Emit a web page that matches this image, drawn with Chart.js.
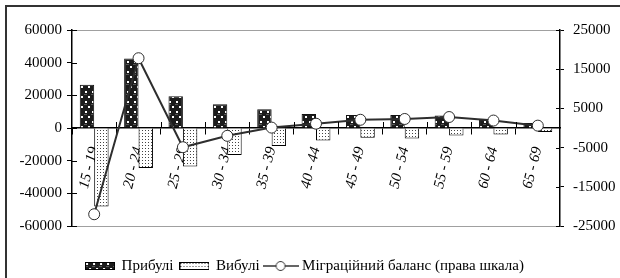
<!DOCTYPE html>
<html>
<head>
<meta charset="utf-8">
<script src="https://cdn.jsdelivr.net/npm/chart.js@4"></script>
<style>
html,body{margin:0;padding:0;background:#fff;overflow:hidden;}
#wrap{width:620px;height:278px;position:relative;}
</style>
</head>
<body>
<div id="wrap"><canvas id="c" width="620" height="278"></canvas></div>
<script>
// ---- data ----
const categories = ['15 - 19','20 - 24','25 - 29','30 - 34','35 - 39','40 - 44','45 - 49','50 - 54','55 - 59','60 - 64','65 - 69'];
const arrivals   = [26500, 42500, 19500, 14500, 11500, 8500, 8000, 8000, 7600, 5600, 3000];
const departures = [-48000, -24500, -23600, -16600, -11000, -7700, -6000, -6400, -4600, -4000, -2400];
const balance    = [-22000, 17800, -4900, -2000, 100, 1100, 2100, 2300, 2800, 1900, 600];
const leftTicks  = [-60000, -40000, -20000, 0, 20000, 40000, 60000];
const rightTicks = [-25000, -15000, -5000, 5000, 15000, 25000];
const seriesNames = ['Прибулі', 'Вибулі', 'Міграційний баланс (права шкала)'];

const FONT = "'Liberation Serif', 'Times New Roman', serif";
Chart.defaults.font.family = FONT;
Chart.defaults.color = '#000';

const ctx = document.getElementById('c').getContext('2d');

function makeTile(w, h, draw) {
  const c = document.createElement('canvas');
  c.width = w; c.height = h;
  draw(c.getContext('2d'));
  return c;
}
const darkTile = makeTile(7, 10, g => {
  g.fillStyle = '#1c1c1c'; g.fillRect(0, 0, 7, 10);
  g.fillStyle = '#555'; g.fillRect(0, 4, 3, 1);
  g.fillStyle = '#ffffff'; g.fillRect(1, 1, 2, 2); g.fillRect(4, 6, 2, 2);
});
const lightTile = makeTile(3, 3, g => {
  g.fillStyle = '#ffffff'; g.fillRect(0, 0, 3, 3);
  g.fillStyle = '#444444'; g.fillRect(1, 1, 1, 1);
});
const darkPat = ctx.createPattern(darkTile, 'repeat');
const lightPat = ctx.createPattern(lightTile, 'repeat');

function legendBox(pat) {
  return makeTile(30, 8, g => {
    g.fillStyle = g.createPattern(pat, 'repeat');
    g.fillRect(0, 0, 30, 8);
    g.strokeStyle = '#000'; g.lineWidth = 1;
    g.strokeRect(0.5, 0.5, 29, 7);
  });
}
const legendLine = makeTile(36, 12, g => {
  g.strokeStyle = '#333'; g.lineWidth = 1.5;
  g.beginPath(); g.moveTo(0, 6); g.lineTo(36, 6); g.stroke();
  g.fillStyle = '#fff'; g.strokeStyle = '#333'; g.lineWidth = 1;
  g.beginPath(); g.arc(18, 6, 4.5, 0, Math.PI * 2); g.fill(); g.stroke();
});
const legendImgs = [legendBox(darkTile), legendBox(lightTile), legendLine];

const decor = {
  id: 'decor',
  beforeDraw(chart) {
    const c = chart.ctx;
    c.save();
    c.fillStyle = '#fff'; c.fillRect(0, 0, chart.width, chart.height);
    c.strokeStyle = '#333'; c.lineWidth = 2;
    c.beginPath(); c.moveTo(6, chart.height); c.lineTo(6, 6); c.lineTo(chart.width, 6); c.stroke();
    c.restore();
  },
  afterDraw(chart) {
    const c = chart.ctx;
    const y = chart.scales.y, y2 = chart.scales.y2, x = chart.scales.x;
    c.save();
    c.strokeStyle = '#000'; c.lineWidth = 1;
    c.beginPath();
    y.ticks.forEach(t => { const p = Math.round(y.getPixelForValue(t.value)) + 0.5; c.moveTo(y.right, p); c.lineTo(y.right + 5, p); });
    y2.ticks.forEach(t => { const p = Math.round(y2.getPixelForValue(t.value)) + 0.5; c.moveTo(y2.left - 4, p); c.lineTo(y2.left, p); });
    const zy = y.getPixelForValue(0);
    for (let i = 1; i < categories.length; i++) {
      const px = Math.round((x.getPixelForValue(i) + x.getPixelForValue(i - 1)) / 2) + 0.5;
      c.moveTo(px, zy - 6); c.lineTo(px, zy);
    }
    c.stroke();
    c.restore();
  }
};

new Chart(ctx, {
  type: 'bar',
  data: {
    labels: categories,
    datasets: [
      { label: seriesNames[0], data: arrivals, backgroundColor: darkPat, borderColor: '#111', borderWidth: 1, yAxisID: 'y', order: 1, categoryPercentage: 0.65, barPercentage: 1.0 },
      { label: seriesNames[1], data: departures, backgroundColor: lightPat, borderColor: '#000', borderWidth: 1, yAxisID: 'y', order: 1, categoryPercentage: 0.65, barPercentage: 1.0 },
      { type: 'line', label: seriesNames[2], data: balance, yAxisID: 'y2', order: 0, borderColor: '#2e2e2e', borderWidth: 2, tension: 0,
        pointRadius: 5.5, pointBackgroundColor: '#fff', pointBorderColor: '#2e2e2e', pointBorderWidth: 1 }
    ]
  },
  options: {
    responsive: false,
    animation: false,
    layout: { padding: { top: 30, left: -10, right: 0, bottom: -5.5 } },
    plugins: {
      tooltip: { enabled: false },
      legend: {
        position: 'bottom',
        labels: {
          usePointStyle: true,
          pointStyleWidth: 28,
          padding: 7,
          font: { size: 15, family: FONT },
          color: '#000',
          generateLabels: chart => seriesNames.map((n, i) => ({
            text: n, pointStyle: legendImgs[i], datasetIndex: i, hidden: false,
            fillStyle: '#fff', strokeStyle: '#000', lineWidth: 0
          }))
        }
      }
    },
    scales: {
      x: {
        type: 'category',
        position: { y: 0 },
        offset: true,
        grid: { display: true, drawOnChartArea: false, offset: true, color: '#000', tickLength: 6, lineWidth: 1 },
        border: { display: true, color: '#000', width: 1.5 },
        ticks: { minRotation: 76, maxRotation: 76, autoSkip: false, padding: 11,
          font: { size: 15, style: 'italic', family: FONT }, color: '#000' }
      },
      spacer: {
        type: 'category',
        position: 'bottom',
        grid: { display: false }, border: { display: false },
        ticks: { display: false },
        afterFit: s => { s.height = 25.5; }
      },
      y: {
        position: 'left',
        min: -60000, max: 60000,
        afterBuildTicks: s => { s.ticks = leftTicks.map(v => ({ value: v })); },
        afterFit: s => { s.width = 82; },
        grid: {
          drawOnChartArea: true,
          color: c => (c.tick && (c.tick.value === 60000 || c.tick.value === -60000)) ? '#a0a0a0' : 'rgba(0,0,0,0)',
          tickColor: '#000', tickLength: 5, lineWidth: 1
        },
        border: { display: true, color: '#000', width: 1.5 },
        ticks: { padding: 5, font: { size: 15, family: FONT }, color: '#000', callback: v => String(v) }
      },
      y2: {
        position: 'right',
        min: -25000, max: 25000,
        afterBuildTicks: s => { s.ticks = rightTicks.map(v => ({ value: v })); },
        afterFit: s => { s.width = 60; },
        grid: { drawOnChartArea: false, tickColor: '#000', tickLength: 4, lineWidth: 1, color: '#000' },
        border: { display: true, color: '#000', width: 1.5 },
        ticks: { padding: 9, font: { size: 15, family: FONT }, color: '#000', callback: v => String(v) }
      }
    }
  },
  plugins: [decor]
});
</script>
</body>
</html>
